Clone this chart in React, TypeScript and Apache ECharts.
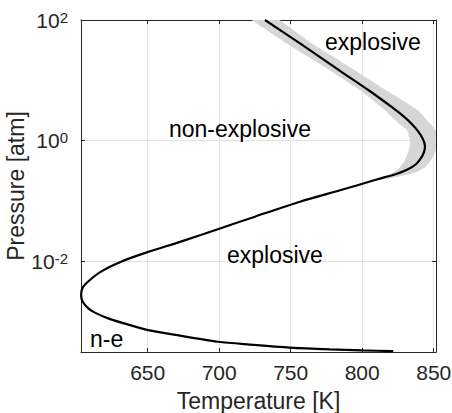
import React, { useEffect, useRef } from "react";
import * as echarts from "echarts";

// Explosion-limit curve (temperature in K, pressure in atm)
const curveT = [
  732.0, 756.5, 784.5, 805.5, 820.8, 829.2, 834.8, 839.0, 842.5, 843.9,
  843.2, 841.1, 837.6, 832.0, 824.3, 815.9, 808.9, 784.5, 756.5, 725.0,
  700.6, 672.6, 650.4, 631.8, 617.1, 606.9, 604.1, 603.5, 604.4, 608.5,
  613.1, 622.4, 634.1, 650.4, 672.6, 699.4, 721.5, 749.5, 777.5, 799.7, 821.7,
];
const curveP = [
  100, 41.1, 14.4, 6.6, 3.59, 2.5, 1.88, 1.44, 1.06, 0.81,
  0.645, 0.513, 0.408, 0.337, 0.284, 0.249, 0.223, 0.151, 0.0977, 0.0552,
  0.0352, 0.0211, 0.0144, 0.01, 0.00673, 0.00432, 0.00347, 0.00277, 0.0022, 0.00167,
  0.00142, 0.00114, 0.000933, 0.000729, 0.000591, 0.000467, 0.00042, 0.000374, 0.000349, 0.000336, 0.000327,
];

// Uncertainty band around the upper branch
const bandP = [128, 39.6, 16.5, 6.86, 3.2, 2.18, 1.49, 1.02, 0.70, 0.475, 0.364, 0.301, 0.258, 0.231];
const bandLowT = [717.1, 748.1, 774.0, 798.5, 816.0, 823.0, 831.3, 833.4, 832.7, 829.9, 826.4, 822.2, 816.4, 811.0];
const bandHighT = [735.0, 765.6, 791.5, 816.7, 839.0, 845.3, 851.4, 852.0, 851.6, 848.1, 843.9, 837.6, 826.4, 816.7];

const xTicks = [650, 700, 750, 800, 850];
const yTickExponents = [-2, 0, 2];
const xRange = [603.4, 851.6];
const yExpRange = [-3.5, 2];

const annotations = [
  { text: "explosive", x: 325, y: 42 },
  { text: "non-explosive", x: 169, y: 129 },
  { text: "explosive", x: 227, y: 255 },
  { text: "n-e", x: 90, y: 338.5 },
];

const FONT = '"Liberation Sans", Arial, Helvetica, sans-serif';
const AX = "#262626";

export default function App() {
  const ref = useRef<HTMLDivElement>(null);
  useEffect(() => {
    if (!ref.current) return;
    const chart = echarts.init(ref.current, null, { renderer: "svg" });
    const line = curveT.map((t, i) => [t, Math.log10(curveP[i])]);
    const lowPts = bandLowT.map((t, i) => [t, Math.log10(bandP[i])]);
    const highPts = bandHighT.map((t, i) => [t, Math.log10(bandP[i])]);

    const baseX = {
      type: "value" as const,
      min: xRange[0],
      max: xRange[1],
      axisLine: { show: true, onZero: false, lineStyle: { color: AX, width: 1 } },
      axisTick: { show: true, inside: true, length: 4, customValues: xTicks, lineStyle: { color: AX } },
      splitLine: { show: false },
    };
    const baseY = {
      type: "value" as const,
      min: yExpRange[0],
      max: yExpRange[1],
      axisLine: { show: true, onZero: false, lineStyle: { color: AX, width: 1 } },
      axisTick: { show: true, inside: true, length: 4, customValues: yTickExponents, lineStyle: { color: AX } },
      splitLine: { show: false },
    };

    chart.setOption({
      animation: false,
      grid: { left: 81, right: 16, top: 20, bottom: 61, containLabel: false, outerBoundsMode: "none" },
      xAxis: [
        {
          ...baseX,
          position: "bottom",
          name: "Temperature [K]",
          nameLocation: "middle",
          nameGap: 37,
          nameMoveOverlap: false,
          nameTextStyle: { fontSize: 23, color: AX, fontFamily: FONT },
          axisLabel: { customValues: xTicks, fontSize: 21, color: AX, fontFamily: FONT, margin: 10 },
          splitLine: { show: true, lineStyle: { color: "#e3e3e3", width: 1 } },
        },
        { ...baseX, position: "top", axisLabel: { show: false } },
      ],
      yAxis: [
        {
          ...baseY,
          position: "left",
          name: "Pressure [atm]",
          nameLocation: "middle",
          nameGap: 54,
          nameRotate: 90,
          nameMoveOverlap: false,
          nameTextStyle: { fontSize: 23, color: AX, fontFamily: FONT },
          axisLabel: {
            customValues: yTickExponents,
            margin: 13,
            formatter: (v: number) => `{b|10}{s|${Math.round(v)}}`,
            rich: {
              b: { fontSize: 21, lineHeight: 21, color: AX, fontFamily: FONT, padding: [5, 0, 0, 0], verticalAlign: "bottom" },
              s: { fontSize: 15, lineHeight: 15, color: AX, fontFamily: FONT, verticalAlign: "top" },
            },
          },
          splitLine: { show: true, lineStyle: { color: "#e3e3e3", width: 1 } },
        },
        { ...baseY, position: "right", axisLabel: { show: false } },
      ],
      series: [
        {
          type: "custom",
          xAxisIndex: 0,
          yAxisIndex: 0,
          clip: true,
          silent: true,
          data: [[xRange[0], yExpRange[0]]],
          renderItem: (params: any, api: any) => {
            const pts = [
              ...lowPts.map((p) => api.coord(p)),
              ...highPts.slice().reverse().map((p) => api.coord(p)),
            ];
            return {
              type: "polygon",
              shape: { points: pts, smooth: 0.15 },
              style: { fill: "#d6d6d6", stroke: "none" },
            };
          },
          z: 2,
        },
        {
          type: "line",
          data: line,
          showSymbol: false,
          smooth: 0.25,
          clip: true,
          lineStyle: { color: "#000", width: 2.2 },
          z: 3,
        },
      ],
      graphic: annotations.map((a) => ({
        type: "text",
        x: a.x,
        y: a.y,
        z: 10,
        style: { text: a.text, font: `23px ${FONT}`, fill: "#000", verticalAlign: "middle", align: "left" },
      })),
    });
    return () => chart.dispose();
  }, []);
  return <div ref={ref} style={{ width: 452, height: 413, position: "absolute", left: 0, top: 0 }} />;
}
